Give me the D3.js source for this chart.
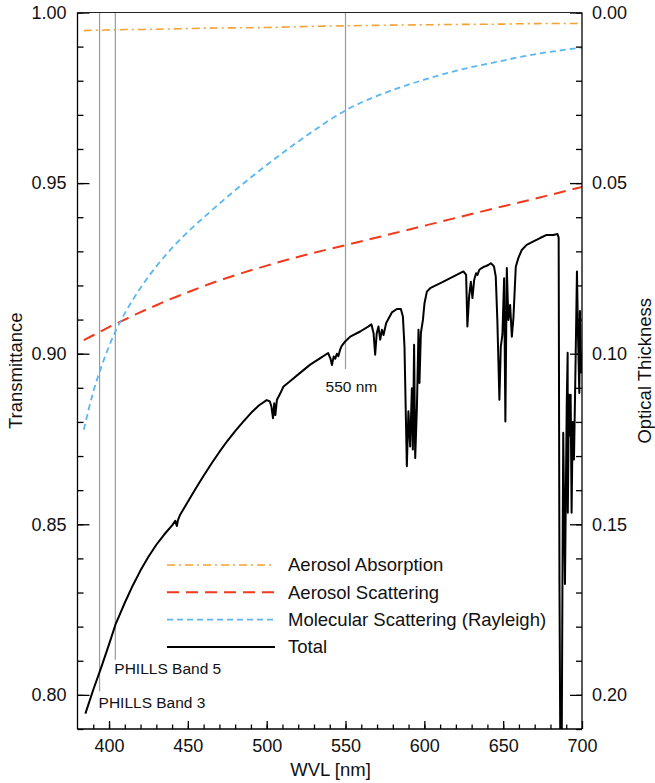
<!DOCTYPE html>
<html>
<head>
<meta charset="utf-8">
<script src="https://cdn.jsdelivr.net/npm/d3@7"></script>
<style>
  body { margin: 0; background: #fff; }
  svg text { font-family: "Liberation Sans", Arial, Helvetica, sans-serif; fill: #111; }
</style>
</head>
<body>
<div class="canvas"></div>
<script>
// smooth component curves
const compWvl = [384, 390, 395, 400, 405, 410, 420, 430, 440, 450, 460, 480, 500, 525, 550, 580, 600, 620, 650, 660, 700];
const aerosolAbsorption = [0.9947, 0.9948, 0.9948, 0.9949, 0.9949, 0.9950, 0.9950, 0.9951, 0.9952, 0.9953, 0.9954, 0.9955, 0.9956, 0.9959, 0.9961, 0.9963, 0.9964, 0.9965, 0.9966, 0.9967, 0.9968];
const aerosolScattering = [0.9040, 0.9054, 0.9066, 0.9078, 0.9089, 0.9100, 0.9122, 0.9142, 0.9162, 0.9180, 0.9198, 0.9230, 0.9258, 0.9290, 0.9318, 0.9352, 0.9375, 0.9398, 0.9432, 0.9443, 0.9489];
const molecularScattering = [0.8777, 0.8888, 0.8960, 0.9022, 0.9074, 0.9118, 0.9193, 0.9256, 0.9310, 0.9357, 0.9399, 0.9479, 0.9553, 0.9638, 0.9713, 0.9773, 0.9803, 0.9829, 0.9859, 0.9869, 0.9897];

// total transmittance incl. gas absorption bands
const totalWvl = [385, 390, 395, 400, 404, 410, 415, 420, 425, 430, 435, 440, 442, 443, 443.7, 445, 450, 455, 460, 465, 470, 475, 480, 485, 490, 495, 500,
  502, 503, 504, 504.8, 505.5, 506.5, 508, 510.7, 515, 521, 527.6, 534, 539, 540.5, 541.4, 542.5, 543.5, 544.5, 545.5, 546.6, 547.5, 549.8,
  553, 559.3, 564.6, 566.4, 567.8, 568.8, 569.8, 570.9, 572, 573.1, 574.1, 575.8, 579.4, 582.6, 585.1, 586.4, 587.4, 588.9, 589.9, 591, 592.1,
  592.7, 593.5, 594.2, 595.3, 596.3, 596.9, 597.8, 599.1, 600.1, 601.6, 603.7, 612.1, 624.8, 626.5, 627.3, 628.4, 629.5, 630.5, 631.6, 632.8,
  633.7, 634.9, 636.4, 637.9, 639.2, 640.6, 642.1, 643.4, 644.2, 645.3, 646.3, 647.6, 648.5, 649.5, 650.6, 651.4, 652.3, 653.3, 654.4, 655.5,
  656.5, 658, 659.6, 661.8, 664.9, 669.2, 673.4, 677.6, 681.8, 684.4, 685.2, 685.7, 686.4, 687, 687.6, 688.1, 689.2, 690.3, 690.9, 691,
  691.7, 692.4, 692.8, 693.4, 694.1, 694.9, 695.6, 696.8, 697.5, 698.3, 698.7, 699.4, 700];
const totalT = [0.7945, 0.8015, 0.8080, 0.8148, 0.8205, 0.8270, 0.8320, 0.8365, 0.8405, 0.8440, 0.8470, 0.8497, 0.8510, 0.8495, 0.8512, 0.8527, 0.8566, 0.8605, 0.8642, 0.8678, 0.8712, 0.8744, 0.8773, 0.8800, 0.8826, 0.8848, 0.8864,
  0.8860, 0.8845, 0.8811, 0.8855, 0.8820, 0.8865, 0.8878, 0.8904, 0.8920, 0.8943, 0.8968, 0.8987, 0.9002, 0.8985, 0.8967, 0.8992, 0.8985, 0.9000, 0.8993, 0.9012, 0.9022, 0.9036,
  0.9050, 0.9065, 0.9080, 0.9086, 0.9060, 0.8997, 0.9060, 0.9080, 0.9041, 0.9070, 0.9055, 0.9090, 0.9121, 0.9131, 0.9131, 0.9109, 0.9021, 0.8670, 0.8831, 0.8728, 0.8899,
  0.8719, 0.9026, 0.8694, 0.8845, 0.9070, 0.8914, 0.9060, 0.9099, 0.9148, 0.9182, 0.9192, 0.9211, 0.9241, 0.9231, 0.9080, 0.9168, 0.9211, 0.9163, 0.9216, 0.9236,
  0.9231, 0.9246, 0.9251, 0.9255, 0.9257, 0.9260, 0.9265, 0.9260, 0.9255, 0.9226, 0.9099, 0.8865, 0.9021, 0.9055, 0.9221, 0.8801, 0.9251, 0.9099, 0.9143, 0.9050,
  0.9104, 0.9255, 0.9280, 0.9304, 0.9319, 0.9329, 0.9339, 0.9348, 0.9348, 0.9351, 0.9340, 0.8330, 0.7700, 0.7700, 0.8330, 0.8768, 0.8325, 0.8845, 0.9003, 0.8534,
  0.8880, 0.8760, 0.8880, 0.8534, 0.8800, 0.8690, 0.8880, 0.9241, 0.9050, 0.8885, 0.9125, 0.8945, 0.9000];

const xTicks = [400, 450, 500, 550, 600, 650, 700];
const yTicks = [0.80, 0.85, 0.90, 0.95, 1.00];
const otTicks = [0.00, 0.05, 0.10, 0.15, 0.20];

const bands = [
  { wvl: 394, label: 'PHILLS Band 3', bottom: 0.8010, ty: 0.7963, dx: -1 },
  { wvl: 404, label: 'PHILLS Band 5', bottom: 0.8103, ty: 0.8062, dx: -1 },
  { wvl: 550, label: '550 nm', bottom: 0.8955, ty: 0.8888, dx: -20 }
];

const series = [
  { name: 'Aerosol Absorption', values: aerosolAbsorption, color: '#f5a234', dash: '8,4,2,4', width: 1.6 },
  { name: 'Aerosol Scattering', values: aerosolScattering, color: '#f2391c', dash: '12,7', width: 2 },
  { name: 'Molecular Scattering (Rayleigh)', values: molecularScattering, color: '#5cb6f2', dash: '6,4', width: 1.8 }
];

const dims = { width: 655, height: 783 };
const margin = { top: 12.5, right: 73, bottom: 54, left: 77.5 };
const graphWidth = dims.width - margin.left - margin.right;
const graphHeight = dims.height - margin.top - margin.bottom;

const svg = d3.select('.canvas').append('svg')
  .attr('width', dims.width)
  .attr('height', dims.height);

const graph = svg.append('g')
  .attr('transform', `translate(${margin.left}, ${margin.top})`);

const x = d3.scaleLinear().domain([380, 700]).range([0, graphWidth]);
const y = d3.scaleLinear().domain([0.79, 1.0]).range([graphHeight, 0]);
const yOT = d3.scaleLinear().domain([0, 0.21]).range([0, graphHeight]);

svg.append('defs').append('clipPath').attr('id', 'plot')
  .append('rect').attr('width', graphWidth).attr('height', graphHeight);

// grey marker lines
bands.forEach(b => {
  graph.append('line')
    .attr('x1', x(b.wvl)).attr('x2', x(b.wvl))
    .attr('y1', 0).attr('y2', y(b.bottom))
    .attr('stroke', '#9a9a9a').attr('stroke-width', 1.2);
  graph.append('text')
    .attr('x', x(b.wvl) + b.dx)
    .attr('y', y(b.ty))
    .style('font-size', '15.5px')
    .text(b.label);
});

const lines = graph.append('g').attr('clip-path', 'url(#plot)');

const line = d3.line()
  .x(d => x(d[0]))
  .y(d => y(d[1]));

series.forEach(s => {
  lines.append('path')
    .datum(compWvl.map((w, i) => [w, s.values[i]]))
    .attr('d', line.curve(d3.curveMonotoneX))
    .attr('fill', 'none')
    .attr('stroke', s.color)
    .attr('stroke-width', s.width)
    .attr('stroke-dasharray', s.dash);
});

lines.append('path')
  .datum(totalWvl.map((w, i) => [w, totalT[i]]))
  .attr('d', line.curve(d3.curveLinear))
  .attr('fill', 'none')
  .attr('stroke', '#000')
  .attr('stroke-width', 2)
  .attr('stroke-linejoin', 'round');

// axes, ticks pointing inward
const fmt = d3.format('.2f');

graph.append('g')
  .call(d3.axisLeft(y).tickValues(d3.range(0.79, 1.0001, 0.01)).tickSize(-6).tickFormat(''))
  .call(g => g.select('.domain').remove());
graph.append('g')
  .call(d3.axisLeft(y).tickValues(yTicks).tickSize(-12).tickPadding(11).tickFormat(fmt))
  .call(g => g.select('.domain').attr('d', `M0,0V${graphHeight}`));

graph.append('g')
  .attr('transform', `translate(${graphWidth},0)`)
  .call(d3.axisRight(yOT).tickValues(d3.range(0, 0.2101, 0.01)).tickSize(-6).tickFormat(''))
  .call(g => g.select('.domain').remove());
graph.append('g')
  .attr('transform', `translate(${graphWidth},0)`)
  .call(d3.axisRight(yOT).tickValues(otTicks).tickSize(-12).tickPadding(10).tickFormat(fmt))
  .call(g => g.select('.domain').attr('d', `M0,0V${graphHeight}`));

graph.append('g')
  .attr('transform', `translate(0,${graphHeight})`)
  .call(d3.axisBottom(x).tickValues(d3.range(390, 700, 10)).tickSize(-4.5).tickFormat(''))
  .call(g => g.select('.domain').remove());
graph.append('g')
  .attr('transform', `translate(0,${graphHeight})`)
  .call(d3.axisBottom(x).tickValues(xTicks).tickSize(-8).tickPadding(10))
  .call(g => g.select('.domain').attr('d', `M0,0H${graphWidth}`));

graph.append('line')
  .attr('x1', 0).attr('x2', graphWidth)
  .attr('y1', 0).attr('y2', 0)
  .attr('stroke', '#222');

graph.selectAll('.tick text').style('font-size', '18px').attr('fill', '#111');
graph.selectAll('.tick line, .domain').attr('stroke', '#000').attr('stroke-width', 1.3);

// axis titles
svg.append('text')
  .attr('transform', `translate(22, ${margin.top + graphHeight / 2}) rotate(-90)`)
  .attr('text-anchor', 'middle')
  .style('font-size', '18.5px')
  .text('Transmittance');

svg.append('text')
  .attr('transform', `translate(651, ${margin.top + graphHeight / 2}) rotate(-90)`)
  .attr('text-anchor', 'middle')
  .style('font-size', '18.5px')
  .text('Optical Thickness');

svg.append('text')
  .attr('x', margin.left + x(550) - 15)
  .attr('y', 776)
  .attr('text-anchor', 'middle')
  .style('font-size', '18.5px')
  .text('WVL [nm]');

// legend
const legendItems = series.concat([{ name: 'Total', color: '#000', dash: null, width: 2 }]);
const legend = svg.append('g').attr('transform', 'translate(167, 565)');
legendItems.forEach((s, i) => {
  const row = legend.append('g').attr('transform', `translate(0, ${i * 27.3})`);
  row.append('line')
    .attr('x1', 0).attr('x2', 108)
    .attr('stroke', s.color)
    .attr('stroke-width', s.width)
    .attr('stroke-dasharray', s.dash);
  row.append('text')
    .attr('x', 121)
    .attr('dy', '0.35em')
    .style('font-size', '18.5px')
    .text(s.name);
});
</script>
</body>
</html>
